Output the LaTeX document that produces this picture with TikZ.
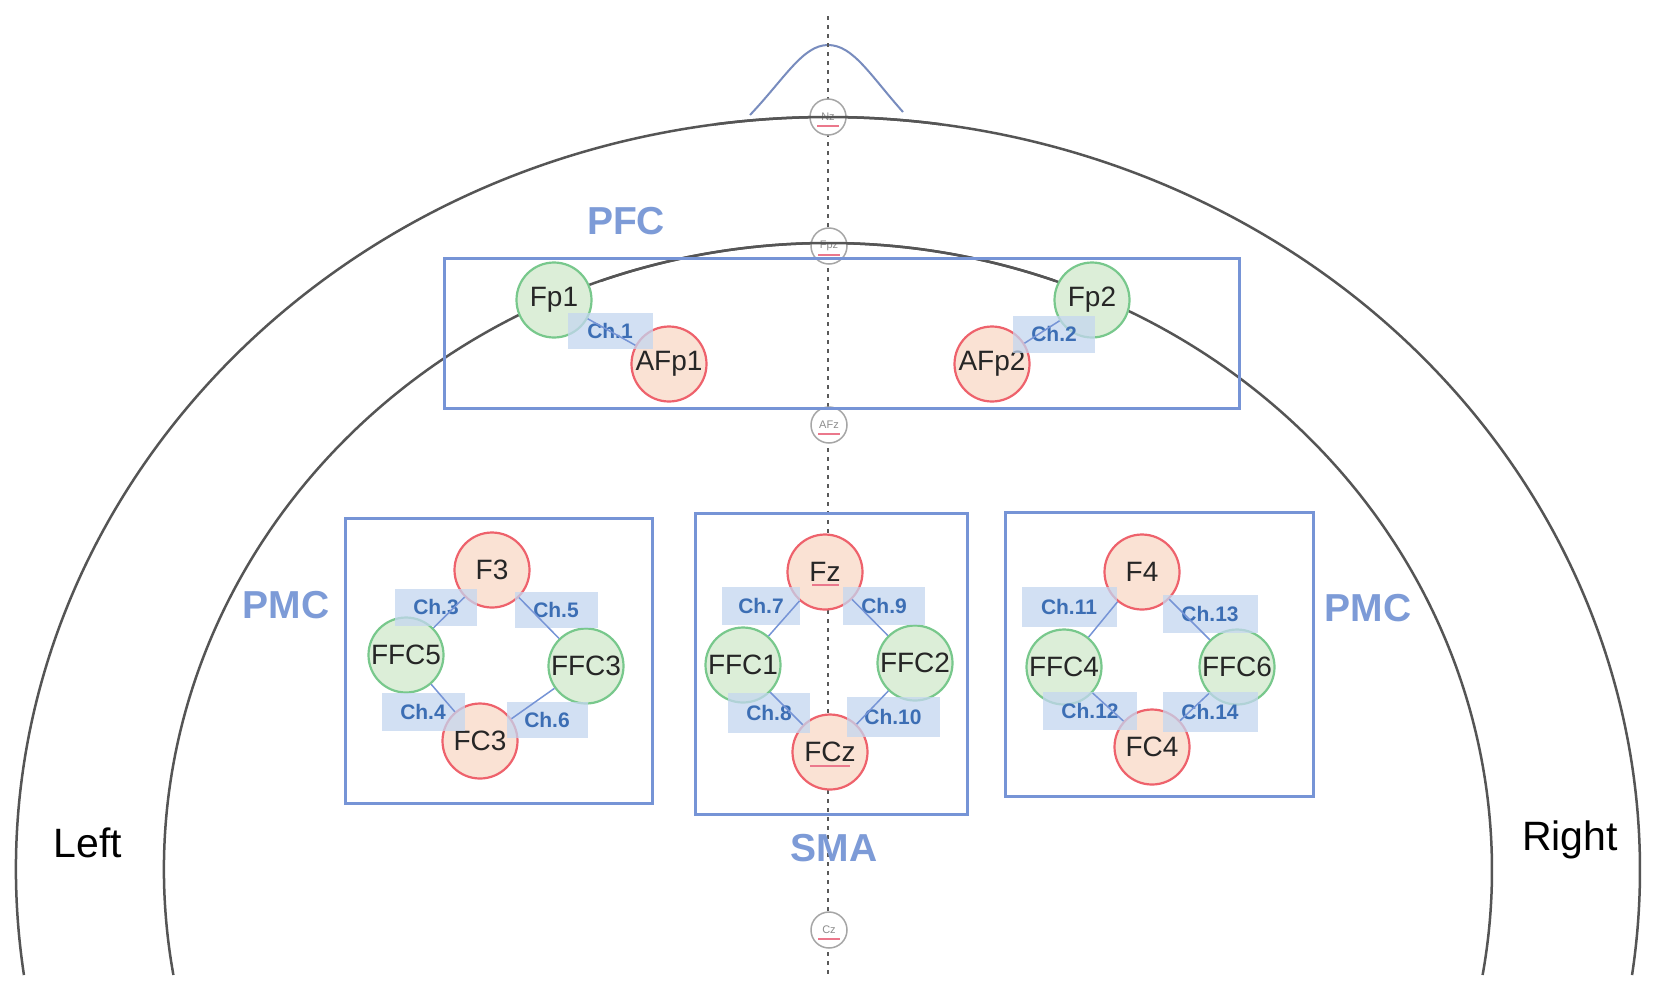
\documentclass[tikz,border=0pt]{standalone}
\usepackage{fontspec}
\setmainfont{Liberation Sans}
\definecolor{boxblue}{RGB}{118,148,214}
\definecolor{lblblue}{RGB}{125,155,215}
\definecolor{chtext}{RGB}{60,110,180}
\definecolor{chfill}{RGB}{196,214,240}
\definecolor{gstroke}{RGB}{120,200,140}
\definecolor{gfill}{RGB}{220,238,216}
\definecolor{rstroke}{RGB}{238,98,108}
\definecolor{rfill}{RGB}{250,226,212}
\definecolor{headline}{RGB}{85,85,85}
\definecolor{bellcol}{RGB}{120,140,190}
\definecolor{pinkline}{RGB}{235,120,140}
\tikzset{
  elec/.style={circle, minimum size=75pt, inner sep=0pt, line width=2.2pt, font=\fontsize{28}{28}\selectfont, text=black!85},
  gel/.style={elec, draw=gstroke, fill=gfill},
  rel/.style={elec, draw=rstroke, fill=rfill},
  refel/.style={circle, minimum size=36pt, inner sep=0pt, draw=black!35, line width=1.5pt, fill=white, font=\fontsize{11}{11}\selectfont, text=black!45},
  chbox/.style={rectangle, inner sep=0pt, fill=chfill, fill opacity=0.75, text opacity=1, text=chtext, font=\bfseries\fontsize{21}{21}\selectfont},
  regbox/.style={draw=boxblue, line width=3pt},
  regionlbl/.style={text=lblblue, font=\bfseries\fontsize{39}{39}\selectfont},
  sidelbl/.style={text=black, font=\fontsize{41}{41}\selectfont},
  conn/.style={draw=boxblue, line width=1.5pt},
  headarc/.style={draw=headline, line width=2.5pt},
}
\begin{document}
\begin{tikzpicture}[x=1pt,y=1pt]
\useasboundingbox (0,0) rectangle (1654,-989);
\fill[white] (0,0) rectangle (1654,-989);
% head outlines
\coordinate (hc) at (828,-870);
\draw[headarc] ([shift={(188.02:812 and 753)}]hc) arc[start angle=188.02, end angle=-8.02, x radius=812, y radius=753];
\draw[headarc] ([shift={(189.64:664 and 627)}]hc) arc[start angle=189.64, end angle=-9.64, x radius=664, y radius=627];
% nose
\coordinate (noseL) at (750,-115);
\coordinate (noseR) at (903,-112);
\coordinate (noseT) at (828,-45);
\draw[bellcol, line width=2pt] (noseL) .. controls (785,-78) and (803,-45) .. (noseT) .. controls (853,-45) and (870,-75) .. (noseR);
% midline
\coordinate (midtop) at (828,-16);
\coordinate (midbot) at (828,-975);
\draw[black!65, line width=2pt, dash pattern=on 4pt off 5pt] (midtop) -- (midbot);
% reference electrodes
\node[refel] (Nz) at (828,-117) {Nz};
\node[refel] (Fpz) at (829,-246) {Fpz};
\node[refel] (AFz) at (829,-425) {AFz};
\node[refel] (Cz) at (829,-930) {Cz};
\draw[headarc] ([shift={(110:664 and 627)}]hc) arc[start angle=110, end angle=70, x radius=664, y radius=627];
\draw[headarc] ([shift={(98:812 and 753)}]hc) arc[start angle=98, end angle=82, x radius=812, y radius=753];
\foreach \n in {Nz,Fpz,AFz,Cz}{\draw[pinkline, line width=1.5pt] ([xshift=-11pt,yshift=-9pt]\n.center) -- ([xshift=11pt,yshift=-9pt]\n.center);}
% region boxes
\draw[regbox] (444,-258) rectangle (1239,-408);
\draw[regbox] (345,-518) rectangle (652,-803);
\draw[regbox] (695,-513) rectangle (967,-814);
\draw[regbox] (1005,-512) rectangle (1313,-796);
% region labels
\node[regionlbl] (lPFC) at (626,-221) {PFC};
\node[regionlbl] (lPMCl) at (286,-605) {PMC};
\node[regionlbl] (lSMA) at (834,-848) {SMA};
\node[regionlbl] (lPMCr) at (1368,-608) {PMC};
\node[sidelbl] (lLeft) at (88,-843) {Left};
\node[sidelbl] (lRight) at (1570,-840) {Right};
% electrodes
\node[gel] (Fp1) at (554,-300) {Fp1};
\node[rel] (AFp1) at (669,-364) {AFp1};
\node[gel] (Fp2) at (1092,-300) {Fp2};
\node[rel] (AFp2) at (992,-364) {AFp2};
\node[rel] (F3) at (492,-570) {F3};
\node[gel] (FFC5) at (406,-655) {FFC5};
\node[gel] (FFC3) at (586,-666) {FFC3};
\node[rel] (FC3) at (480,-741) {FC3};
\node[rel] (Fz) at (825,-572) {Fz};
\node[gel] (FFC1) at (743,-665) {FFC1};
\node[gel] (FFC2) at (915,-663) {FFC2};
\node[rel] (FCz) at (830,-752) {FCz};
\node[rel] (F4) at (1142,-572) {F4};
\node[gel] (FFC4) at (1064,-667) {FFC4};
\node[gel] (FFC6) at (1237,-667) {FFC6};
\node[rel] (FC4) at (1152,-747) {FC4};
\draw[pinkline, line width=1.5pt] (812,-585) -- (839,-585);
\draw[pinkline, line width=1.5pt] (810,-766) -- (850,-766);
% channel boxes
\node[chbox, minimum width=85pt, minimum height=36pt] (ch1) at (610,-331) {Ch.1};
\node[chbox, minimum width=82pt, minimum height=37pt] (ch2) at (1054,-334) {Ch.2};
\node[chbox, minimum width=82pt, minimum height=37pt] (ch3) at (436,-607) {Ch.3};
\node[chbox, minimum width=83pt, minimum height=36pt] (ch5) at (556,-610) {Ch.5};
\node[chbox, minimum width=83pt, minimum height=38pt] (ch4) at (423,-712) {Ch.4};
\node[chbox, minimum width=81pt, minimum height=36pt] (ch6) at (547,-720) {Ch.6};
\node[chbox, minimum width=78pt, minimum height=38pt] (ch7) at (761,-606) {Ch.7};
\node[chbox, minimum width=82pt, minimum height=38pt] (ch9) at (884,-606) {Ch.9};
\node[chbox, minimum width=82pt, minimum height=40pt] (ch8) at (769,-713) {Ch.8};
\node[chbox, minimum width=93pt, minimum height=40pt] (ch10) at (893,-717) {Ch.10};
\node[chbox, minimum width=95pt, minimum height=40pt] (ch11) at (1069,-607) {Ch.11};
\node[chbox, minimum width=95pt, minimum height=38pt] (ch13) at (1210,-614) {Ch.13};
\node[chbox, minimum width=94pt, minimum height=38pt] (ch12) at (1090,-711) {Ch.12};
\node[chbox, minimum width=95pt, minimum height=40pt] (ch14) at (1210,-712) {Ch.14};
% connectors
\draw[conn] (Fp1) -- (AFp1);
\draw[conn] (Fp2) -- (AFp2);
\draw[conn] (F3) -- (FFC5);
\draw[conn] (F3) -- (FFC3);
\draw[conn] (FFC5) -- (FC3);
\draw[conn] (FFC3) -- (FC3);
\draw[conn] (Fz) -- (FFC1);
\draw[conn] (Fz) -- (FFC2);
\draw[conn] (FFC1) -- (FCz);
\draw[conn] (FFC2) -- (FCz);
\draw[conn] (F4) -- (FFC4);
\draw[conn] (F4) -- (FFC6);
\draw[conn] (FFC4) -- (FC4);
\draw[conn] (FFC6) -- (FC4);
\end{tikzpicture}
\end{document}
